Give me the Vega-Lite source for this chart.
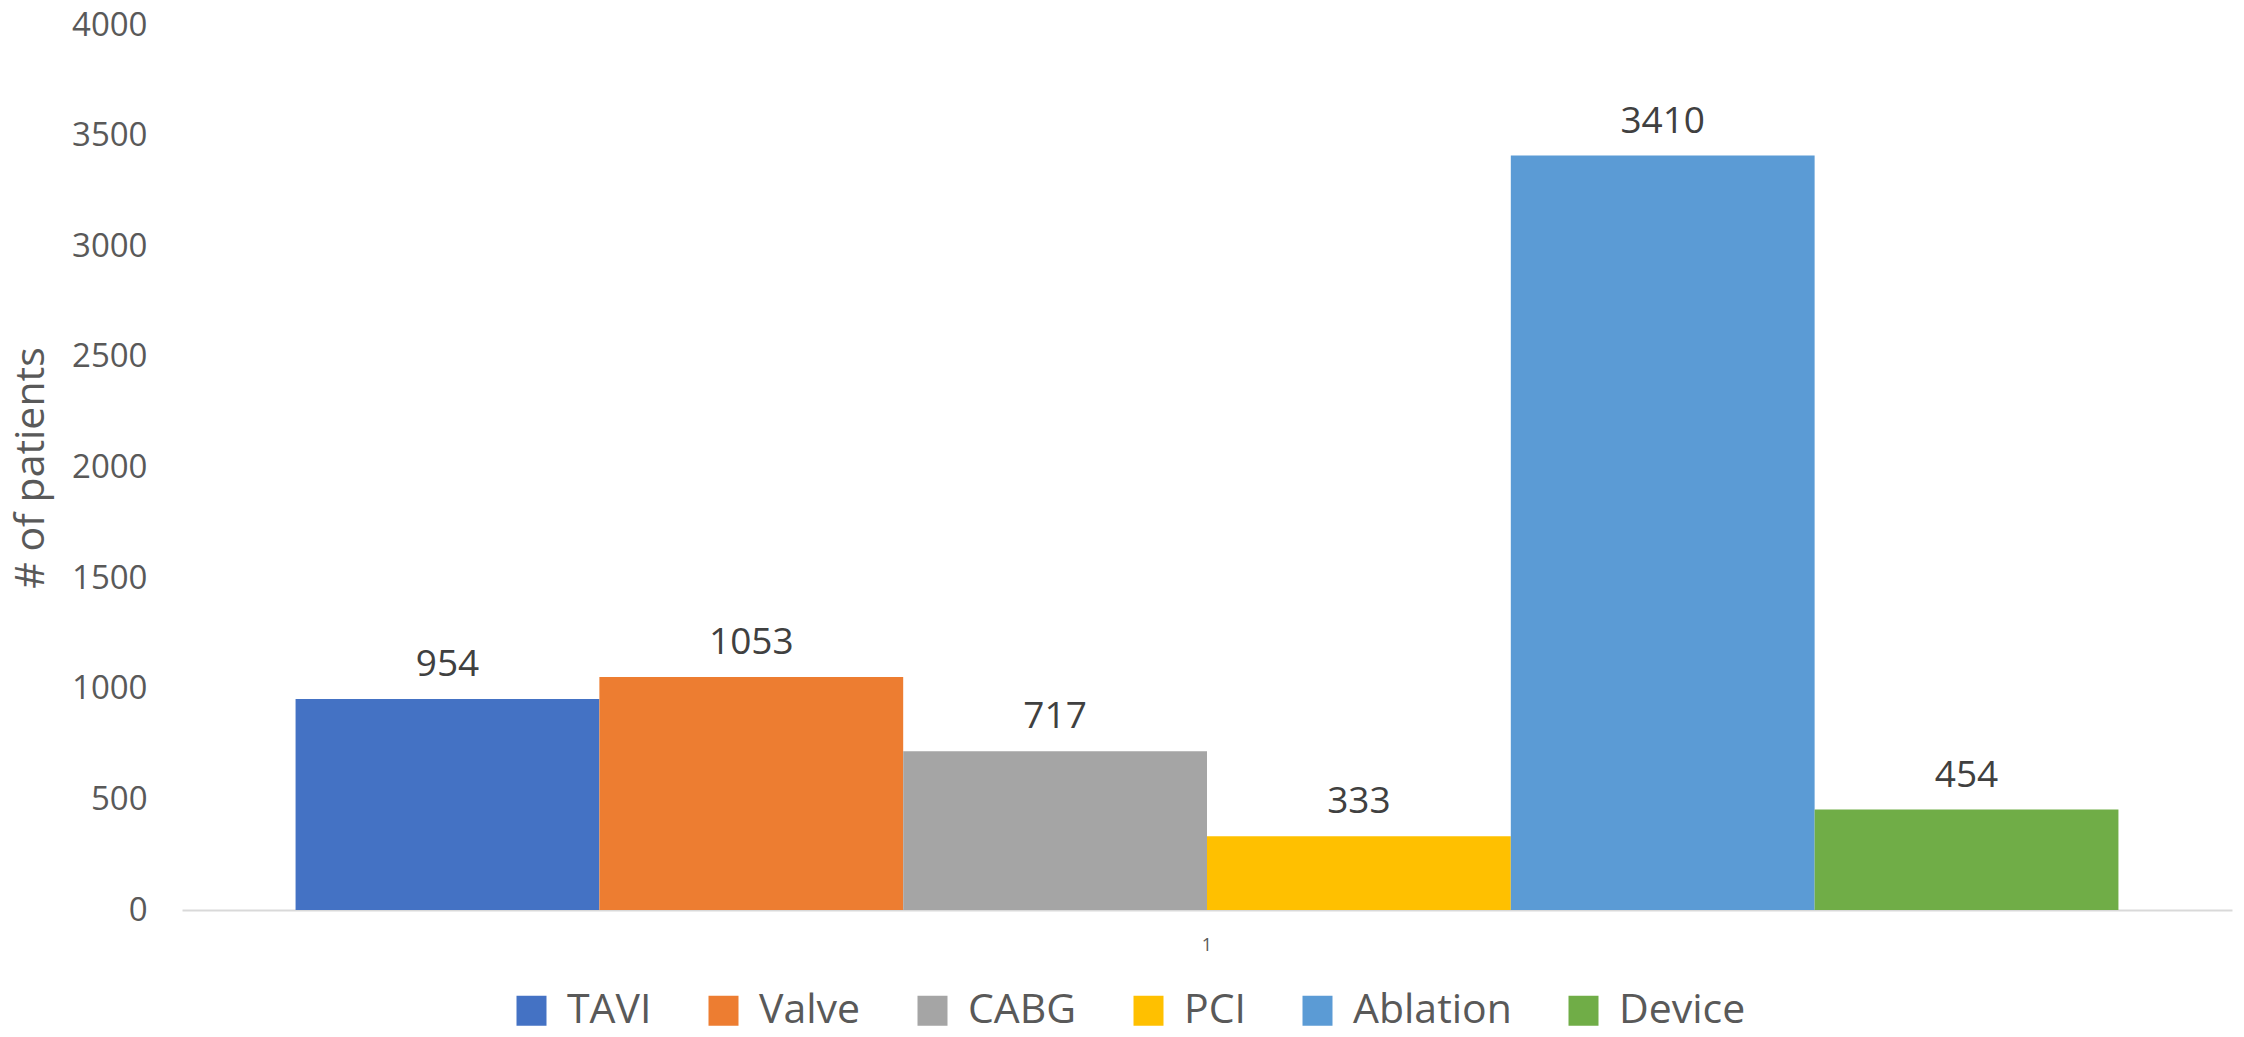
{
  "$schema": "https://vega.github.io/schema/vega-lite/v6.json",
  "autosize": {"type": "none"},
  "width": 2050,
  "height": 885,
  "padding": {"left": 182, "top": 25, "right": 12, "bottom": 127},
  "background": "white",
  "data": {
    "values": [
      {"cat": "1", "proc": "TAVI", "n": 954},
      {"cat": "1", "proc": "Valve", "n": 1053},
      {"cat": "1", "proc": "CABG", "n": 717},
      {"cat": "1", "proc": "PCI", "n": 333},
      {"cat": "1", "proc": "Ablation", "n": 3410},
      {"cat": "1", "proc": "Device", "n": 454}
    ]
  },
  "config": {
    "view": {"stroke": null},
    "font": "Open Sans"
  },
  "encoding": {
    "x": {
      "field": "cat",
      "type": "nominal",
      "scale": {"paddingInner": 0, "paddingOuter": 0.0623},
      "axis": {
        "title": null,
        "labelAngle": 0,
        "labelFont": "Open Sans",
        "labelFontSize": 18,
        "labelColor": "#595959",
        "labelPadding": 26,
        "ticks": false,
        "domainColor": "#d9d9d9",
        "domainWidth": 2
      }
    },
    "xOffset": {
      "field": "proc",
      "type": "nominal",
      "sort": ["TAVI", "Valve", "CABG", "PCI", "Ablation", "Device"],
      "scale": {"paddingInner": 0, "paddingOuter": 0}
    },
    "y": {
      "field": "n",
      "type": "quantitative",
      "scale": {"domain": [0, 4000]},
      "axis": {
        "title": "# of patients",
        "titleFont": "Open Sans",
        "titleFontSize": 41,
        "titleFontWeight": "normal",
        "titleColor": "#595959",
        "titlePadding": 19,
        "values": [0, 500, 1000, 1500, 2000, 2500, 3000, 3500, 4000],
        "format": "d",
        "labelFont": "Open Sans",
        "labelFontSize": 33,
        "labelColor": "#595959",
        "labelPadding": 35,
        "ticks": false,
        "domain": false,
        "grid": false
      }
    }
  },
  "layer": [
    {
      "mark": {"type": "bar"},
      "encoding": {
        "color": {
          "field": "proc",
          "type": "nominal",
          "sort": ["TAVI", "Valve", "CABG", "PCI", "Ablation", "Device"],
          "scale": {
            "domain": ["TAVI", "Valve", "CABG", "PCI", "Ablation", "Device"],
            "range": ["#4472C4", "#ED7D31", "#A5A5A5", "#FFC000", "#5B9BD5", "#70AD47"]
          },
          "legend": {
            "title": null,
            "orient": "none",
            "direction": "horizontal",
            "legendX": 329,
            "legendY": 965,
            "symbolType": "square",
            "symbolSize": 900,
            "symbolStrokeWidth": 0,
            "labelFont": "Open Sans",
            "labelFontSize": 41,
            "labelColor": "#595959",
            "labelOffset": 15,
            "columnPadding": 51,
            "labelLimit": 400
          }
        }
      }
    },
    {
      "mark": {
        "type": "text",
        "baseline": "alphabetic",
        "dy": -23,
        "font": "Open Sans",
        "fontSize": 37,
        "color": "#404040"
      },
      "encoding": {
        "text": {"field": "n", "type": "quantitative"}
      }
    }
  ]
}
